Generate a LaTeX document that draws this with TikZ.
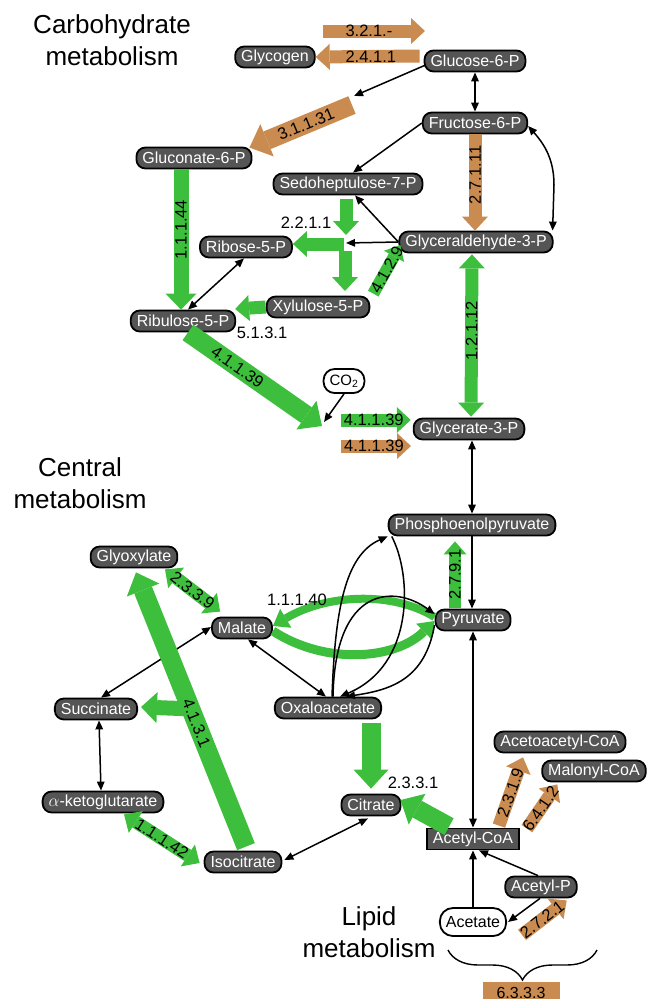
\documentclass[tikz,border=0pt]{standalone}
\usepackage{fontspec}
\setmainfont{Liberation Sans}
\usetikzlibrary{arrows.meta,decorations.pathreplacing}
\definecolor{gcol}{RGB}{61,190,61}
\definecolor{ocol}{RGB}{201,139,80}
\definecolor{ncol}{RGB}{85,85,85}
\tikzset{
  tbk/.tip={Triangle[length=9pt,width=7.5pt]},
  txs/.tip={Triangle[length=13pt,width=23pt,line width=0pt]},
  ths/.tip={Triangle[length=14pt,width=26pt,line width=0pt]},
  thm/.tip={Triangle[length=16pt,width=31pt,line width=0pt]},
  thb/.tip={Triangle[length=19pt,width=35pt,line width=0pt]},
  thc/.tip={Triangle[length=15pt,width=22pt,line width=0pt]},
  met/.style={draw=black, line width=1.8pt, fill=ncol, text=white, rounded corners=9pt,
    minimum height=21pt, inner xsep=6pt, inner ysep=0pt, font=\fontsize{16}{16}\selectfont},
  wmet/.style={met, fill=white, text=black},
  ttl/.style={align=center, font=\fontsize{26}{32}\selectfont},
  lab/.style={font=\fontsize{16.5}{16.5}\selectfont, inner sep=0pt, text=black},
  conn/.style={draw=black, line width=1.5pt, -tbk},
  dconn/.style={draw=black, line width=1.5pt, tbk-tbk},
  grn/.style={draw=gcol},
  orng/.style={draw=ocol},
  fxs/.style={line width=12pt, -txs},
  fs/.style={line width=13pt, -ths},
  fsd/.style={line width=13pt, ths-ths},
  fm/.style={line width=15pt, -thm},
  fb/.style={line width=19pt, -thb},
}
\begin{document}
\begin{tikzpicture}[x=1pt,y=-1pt]
\useasboundingbox (0,0) rectangle (647,999);
% titles
\node[ttl] (tcarb) at (112,40) {Carbohydrate\\metabolism};
\node[ttl] (tcent) at (80,483) {Central\\metabolism};
\node[ttl] (tlip) at (369,932) {Lipid\\metabolism};
% metabolites
\node[met] (glycogen) at (275,57) {Glycogen};
\node[met] (g6p) at (475,61) {Glucose-6-P};
\node[met] (f6p) at (475,123) {Fructose-6-P};
\node[met] (gl6p) at (194,158) {Gluconate-6-P};
\node[met] (s7p) at (348,184) {Sedoheptulose-7-P};
\node[met] (r5p) at (246,247) {Ribose-5-P};
\node[met] (gap) at (476,242) {Glyceraldehyde-3-P};
\node[met] (x5p) at (318,307) {Xylulose-5-P};
\node[met] (ru5p) at (183,321) {Ribulose-5-P};
\node[wmet, minimum height=24pt, rounded corners=11pt, font=\fontsize{15}{15}\selectfont] (co2) at (344,381) {CO\textsubscript{2}};
\node[met] (g3p) at (469,429) {Glycerate-3-P};
\node[met] (pep) at (472,525) {Phosphoenolpyruvate};
\node[met] (glx) at (134,557) {Glyoxylate};
\node[met] (mal) at (242,628) {Malate};
\node[met] (pyr) at (473,620) {Pyruvate};
\node[met] (suc) at (96,709) {Succinate};
\node[met] (oaa) at (328,708) {Oxaloacetate};
\node[met] (akg) at (103,802) {$\alpha$-ketoglutarate};
\node[met] (cit) at (371,805) {Citrate};
\node[met] (ici) at (243,862) {Isocitrate};
\node[met, rounded corners=0pt] (acoa) at (473,839) {Acetyl-CoA};
\node[met] (aacoa) at (560,742) {Acetoacetyl-CoA};
\node[met] (mcoa) at (594,771) {Malonyl-CoA};
\node[met] (acp) at (541,887) {Acetyl-P};
\node[wmet, minimum height=28pt, rounded corners=13pt] (ace) at (473,922) {Acetate};
% free coordinates
\coordinate (a321s) at (323,31);
\coordinate (a321e) at (425,31);
\coordinate (o31t) at (352,105);
\coordinate (crt) at (346,235);
\coordinate (crc) at (344,244);
\coordinate (crb1) at (345,251);
\coordinate (crb2) at (345,291);
\coordinate (j39) at (322,426);
\coordinate (s39) at (341,420);
\coordinate (o39a) at (341,446);
\coordinate (o39b) at (411,446);
\coordinate (br) at (194,709);
% black line under green
\draw[dconn] ([shift={(0,-1)}]mal.west) -- ([shift={(5,0)}]suc.north);
% fat arrows
\draw[orng,fs] (a321s) -- (a321e) node[lab,pos=.45]{3.2.1.-};
\draw[orng,fs] ([shift={(-4,-5)}]g6p.west) -- (glycogen.east) node[lab,pos=.47]{2.4.1.1};
\draw[orng,fb] (o31t) -- ([shift={(-3,1)}]gl6p.north east) node[lab,sloped,pos=.45]{3.1.1.31};
\draw[orng,fs] (f6p.south) -- (f6p.south |- gap.north) node[lab,rotate=90,pos=.42]{2.7.1.11};
\draw[grn,fm] ([shift={(-13,0)}]gl6p.south) -- ([shift={(-13,0)}]gl6p.south |- ru5p.north) node[lab,rotate=90,pos=.43]{1.1.1.44};
\draw[grn,fs] ([shift={(-2,4)}]s7p.south) -- (crt);
\draw[grn,fs] (crc) -- ([shift={(0,-3)}]r5p.east);
\draw[grn,fs] (crb1) -- (crb2);
\node[lab] (l2211) at (306,223) {2.2.1.1};
\draw[grn,fxs] ([shift={(3,-2)}]x5p.north east) -- ([shift={(2,3)}]gap.west) node[lab,sloped,pos=.5]{4.1.2.9};
\draw[grn,fs] (x5p.west) -- ([shift={(-1,-12)}]ru5p.east);
\node[lab] (l5131) at (262,333) {5.1.3.1};
\draw[grn,fb] ([shift={(5,0)}]ru5p.south) -- (j39) node[lab,sloped,pos=.37]{4.1.1.39};
\draw[grn,fs] (s39) -- ([shift={(-2,-9)}]g3p.west) node[lab,pos=.47]{4.1.1.39};
\draw[orng,fs] (o39a) -- (o39b) node[lab,pos=.47]{4.1.1.39};
\draw[grn,fsd] ([shift={(-4,1)}]gap.south) -- ([shift={(2,-1)}]g3p.north) node[lab,rotate=90,pos=.47]{1.2.1.12};
\draw[grn,fxs] ([shift={(-18,-1)}]pyr.north) -- ([shift={(-17,5)}]pep.south) node[lab,rotate=90,pos=.5]{2.7.9.1};
\draw[grn,line width=8pt,-thc] ([shift={(0,-3)}]pyr.west) .. controls (390,590) and (325,595) .. ([shift={(0,-2)}]mal.east);
\draw[grn,line width=9pt,-thc] ([shift={(0,3)}]mal.east) .. controls (325,665) and (395,660) .. ([shift={(0,1)}]pyr.west);
\node[lab] (l11140) at (297,600) {1.1.1.40};
\draw[grn,fsd] ([shift={(31,1)}]glx.south) -- ([shift={(9,-5)}]mal.north west) node[lab,sloped,pos=.5]{2.3.3.9};
\draw[grn,fm] (br) -- ([shift={(3,-2)}]suc.east);
\draw[grn,fb] ([shift={(3,-4)}]ici.north) -- ([shift={(2,4)}]glx.south) node[lab,sloped,pos=.45]{4.1.3.1};
\draw[grn,fsd] ([shift={(21,1)}]akg.south) -- ([shift={(-4,1)}]ici.west) node[lab,sloped,pos=.5]{1.1.1.42};
\draw[grn,fb] ([shift={(43,4)}]oaa.south) -- ([shift={(0,-5)}]cit.north);
\node[lab] (l2331) at (413,783) {2.3.3.1};
\draw[grn,fb] ([shift={(23,-1)}]acoa.north west) -- ([shift={(-1,-5)}]cit.east);
\draw[orng,fs] ([shift={(-21,-2)}]acoa.north east) -- ([shift={(-37,4)}]aacoa.south) node[lab,sloped,pos=.48]{2.3.1.9};
\draw[orng,fs] ([shift={(7,1)}]acoa.north east) -- ([shift={(16,2)}]mcoa.south west) node[lab,sloped,pos=.45]{6.4.1.2};
\draw[orng,fs] ([shift={(15,-2)}]ace.south east) -- ([shift={(-11,2)}]acp.south east) node[lab,sloped,pos=.45]{2.7.2.1};
% black connectors
\draw[conn] ([shift={(2,4)}]g6p.west) -- ([shift={(2,-9)}]o31t);
\draw[dconn] (g6p.south) -- (f6p.north);
\draw[conn] (f6p.west) -- ([shift={(5,0)}]s7p.north);
\draw[dconn] ([shift={(0,3)}]f6p.east) .. controls (545,145) and (554,160) .. (554,185) -- ([shift={(-1,0)}]gap.north east);
\draw[conn] (gap.west) -- ([shift={(7,0)}]s7p.south);
\draw[conn] (gap.west) -- ([shift={(2,-1)}]crc);
\draw[dconn] ([shift={(-2,0)}]r5p.south) -- ([shift={(5,0)}]ru5p.north);
\draw[conn] (co2.south) -- ([shift={(2,-4)}]j39);
\draw[dconn] (pep.north |- g3p.south) -- (pep.north);
\draw[conn] (pep.south) -- (pep.south |- pyr.north);
\draw[dconn] (acoa.north) -- (acoa.north |- pyr.south);
\draw[dconn] ([shift={(6,0)}]mal.south) -- ([shift={(-2,0)}]oaa.north);
\draw[dconn] ([shift={(3,0)}]suc.south) -- ([shift={(-2,0)}]akg.north);
\draw[dconn] ([shift={(2,-2)}]ici.east) -- ([shift={(-3,2)}]cit.south);
\draw[conn] ([shift={(4,0)}]oaa.north) .. controls (335,610) and (345,555) .. (pep.south west);
\draw[conn] ([shift={(4,0)}]pep.south west) .. controls (412,575) and (415,665) .. ([shift={(12,0)}]oaa.north);
\draw[conn] ([shift={(5,0)}]oaa.north) .. controls (335,585) and (395,585) .. ([shift={(0,-6)}]pyr.west);
\draw[conn] ([shift={(0,5)}]pyr.west) .. controls (425,680) and (390,690) .. ([shift={(18,0)}]oaa.north);
\draw[conn] (ace.north) -- (acoa.south);
\draw[conn] ([shift={(-3,0)}]acp.north) -- ([shift={(6,0)}]acoa.south);
\draw[conn] ([shift={(-1,0)}]acp.south) -- ([shift={(1,0)}]ace.east);
% lipid brace and enzyme box
\draw[line width=1.4pt, decorate, decoration={brace, mirror, amplitude=30pt, aspect=0.5}] (448,950) -- (597,950);
\node[fill=ocol, minimum width=77pt, minimum height=22pt, inner sep=0pt, font=\fontsize{16}{16}\selectfont] (e6333) at (521,993) {6.3.3.3};
\end{tikzpicture}
\end{document}
